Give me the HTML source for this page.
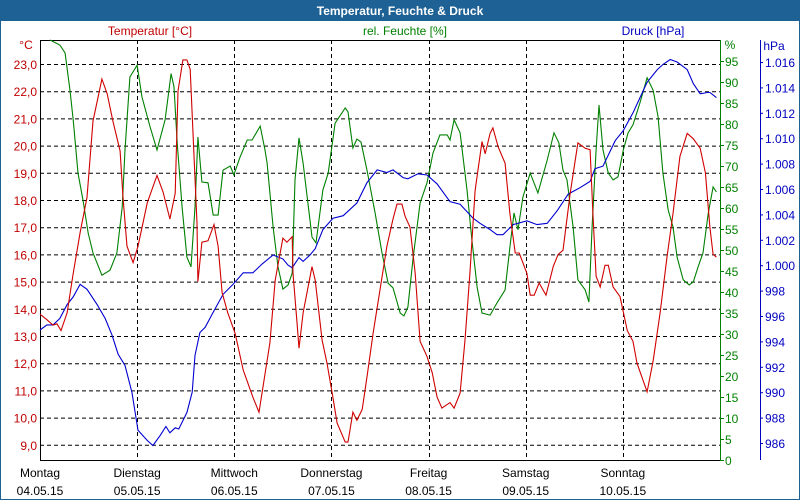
<!DOCTYPE html>
<html><head><meta charset="utf-8"><style>
html,body{margin:0;padding:0;background:#fff}
#wrap{position:relative;width:798px;height:498px;border:1px solid #1e6194;background:#fff;font-family:"Liberation Sans",sans-serif;overflow:hidden}
#title{position:absolute;left:0;top:0;width:798px;height:20px;background:#1e6194;color:#fff;font-weight:bold;font-size:12px;line-height:20px;text-align:center}
svg{position:absolute;left:-1px;top:-1px}
</style></head><body>
<div id="wrap">
<div id="title">Temperatur, Feuchte &amp; Druck</div>
<svg id="chart" width="800" height="500"></svg>
</div>
<script>
const dayNames=["Montag","Dienstag","Mittwoch","Donnerstag","Freitag","Samstag","Sonntag"];
const dayDates=["04.05.15","05.05.15","06.05.15","07.05.15","08.05.15","09.05.15","10.05.15"];
const tempTicks=[9,10,11,12,13,14,15,16,17,18,19,20,21,22,23];
const humTicks=[0,5,10,15,20,25,30,35,40,45,50,55,60,65,70,75,80,85,90,95];
const presTicks=[986,988,990,992,994,996,998,1000,1002,1004,1006,1008,1010,1012,1014,1016];
const tempH=[0,1.7,3.2,4.2,5.2,6.7,8.2,9.9,11.6,13.1,15.3,16.6,18.0,19.8,20.5,21.5,23.0,24.2,26.5,28.9,30.4,32.1,33.4,34.1,35.3,36.3,37.1,38.0,38.8,39.0,40.0,41.5,43.0,44.0,45.0,46.4,48.2,50.2,52.6,54.1,55.6,56.8,58.1,60.0,61.0,62.3,62.5,63.5,64.0,65.0,67.2,68.0,69.7,70.9,72.2,73.4,75.4,76.1,77.3,78.3,79.6,80.8,82.3,84.0,85.7,87.2,88.2,89.4,90.2,91.4,92.7,93.9,95.6,96.9,98.1,99.3,101.3,102.3,103.8,105.0,106.2,107.5,109.2,110.0,111.2,111.9,113.2,114.9,116.1,117.4,118.4,120.3,121.1,122.1,123.3,125.0,126.8,128.0,129.2,131.0,132.9,134.7,135.9,136.6,137.4,138.4,139.6,140.4,141.6,143.3,145.1,146.5,147.5,150.0,151.5,153.2,154.9,156.4,158.1,159.9,161.4,163.1,164.4,165.5,166.3,167.1];
const tempV=[13.8,13.6,13.4,13.45,13.2,13.85,15.3,16.8,18.1,20.9,22.45,21.9,20.9,19.8,18.1,16.3,15.7,16.3,17.9,18.9,18.3,17.3,18.25,22.0,23.15,23.15,22.8,19.8,17.15,15.0,16.45,16.5,17.1,16.3,14.6,13.85,13.1,11.75,10.75,10.2,11.6,12.75,15.05,16.6,16.45,16.65,15.3,13.5,12.55,13.85,15.55,15.05,12.85,12.0,10.9,9.8,9.1,9.1,10.2,9.9,10.3,11.5,13.1,14.7,16.3,17.3,17.85,17.85,17.4,17.0,15.3,12.8,12.25,11.65,10.75,10.35,10.55,10.35,10.9,12.85,15.3,18.35,20.15,19.7,20.45,20.65,19.95,19.35,17.5,16.05,16.05,15.3,14.5,14.5,14.95,14.5,15.55,16.0,16.15,18.25,20.1,19.9,19.85,17.5,15.2,14.8,15.6,15.6,14.8,14.45,13.2,12.8,12.0,10.95,12.1,13.85,15.9,17.5,19.6,20.45,20.25,19.9,19.0,17.0,16.0,15.9];
const humH=[2.5,4.9,6.2,7.4,8.2,9.4,10.6,11.9,13.1,15.3,17.3,19.0,20.3,21.0,22.2,24.0,25.2,27.2,28.9,30.9,32.4,33.1,33.9,35.1,36.3,37.3,38.3,39.0,40.0,41.5,42.8,44.0,45.2,47.0,47.9,49.4,51.2,52.4,54.4,55.6,56.1,57.6,58.8,60.0,61.3,62.3,63.0,64.0,65.0,67.2,68.2,69.9,71.2,72.9,75.4,76.1,77.3,78.3,79.3,80.8,82.8,84.5,86.0,87.2,89.0,89.9,90.9,92.2,93.9,95.6,97.1,98.8,100.6,101.3,102.3,103.8,105.5,106.7,108.0,109.2,111.2,112.9,114.9,116.1,117.1,118.1,119.3,121.1,123.0,125.3,127.0,128.2,129.2,130.2,131.7,132.9,134.7,135.6,136.4,137.4,138.1,139.1,140.4,141.6,142.8,144.1,145.3,146.5,148.2,150.0,151.5,152.7,153.9,155.2,156.4,157.4,158.9,160.4,161.4,162.6,163.8,165.1,166.3,167.1];
const humV=[100,98.8,96.9,88,81,68.3,62,54,49.3,44,45.2,49.3,60.2,73.8,91.2,94,86.4,79.3,73.8,81,92,88.8,75.5,60.2,48.3,46,60.2,76.9,66.2,66,58.3,58.3,69,70,67.9,72.1,76.2,76.2,79.5,73.8,70.7,55.5,46,40.7,41.7,44.5,66.7,76.7,70.7,53.1,51.7,64.3,68.3,80.2,83.8,82.9,74.3,76.4,75.7,69,58.8,49.3,42.1,41,35,34.3,36.4,48.3,61.2,66,73.1,77.4,77.4,76.2,81,77.9,64.3,52.4,41.2,35,34.5,37.4,40.5,50.7,58.8,54.8,62.6,68.3,63.6,71.4,77.9,75.5,69,66.7,55.5,42.9,40.5,37.6,55.5,73.8,84.5,73.8,68.3,66.7,67.4,73.8,77.9,79.8,85,91,88,81.7,68.3,59.5,55.5,48.3,42.9,41.7,42.4,46,49.3,58.8,65,63.8];
const presH=[0,1.7,3.2,4.9,6.7,8.2,9.9,11.6,14.1,16.1,17.8,19.3,21.0,22.7,24.2,26.5,27.9,29.7,31.1,32.1,33.4,34.3,36.3,37.6,38.3,39.5,40.8,42.8,45.2,47.7,50.2,52.6,54.9,57.6,60.0,61.3,62.3,64.0,65.0,66.7,68.0,69.9,72.4,74.9,78.3,80.8,83.3,85.7,87.2,89.7,90.9,93.4,95.6,98.1,101.3,103.8,107.0,108.7,111.2,112.9,114.4,116.9,120.3,122.8,125.3,127.8,130.5,133.4,135.9,137.1,139.1,142.1,144.1,146.5,150.0,152.5,153.9,155.7,157.4,159.9,161.4,163.1,164.9,165.5,167.1];
const presV=[994.9,995.3,995.3,995.8,996.9,997.5,998.5,998.1,996.9,995.8,994.5,993.0,992.1,990.0,987.0,986.2,985.8,986.6,987.3,986.8,987.2,987.1,988.4,990.0,992.9,994.7,995.1,996.3,997.7,998.5,999.4,999.4,1000.1,1000.8,1000.5,1000.0,999.8,1000.6,1000.3,1000.8,1001.3,1002.8,1003.7,1003.9,1004.9,1006.5,1007.5,1007.3,1007.5,1006.9,1006.8,1007.2,1007.1,1006.4,1005.0,1004.8,1003.7,1003.3,1002.8,1002.4,1002.4,1003.2,1003.5,1003.2,1003.3,1004.3,1005.6,1006.1,1006.6,1007.6,1007.8,1009.8,1010.6,1012.0,1014.4,1015.4,1015.8,1016.2,1016.0,1015.4,1014.3,1013.5,1013.6,1013.6,1013.2];

const NS="http://www.w3.org/2000/svg";
const svg=document.getElementById('chart');
const L=40,R=720,T=40,B=460;
const xH=h=>L+(h/168)*(R-L);
const yT=v=>64+(23-v)*27.2;
const yHum=v=>B-v*4.2;
const yP=v=>62+(1016-v)*12.7;
function mk(tag,attrs,parent){const e=document.createElementNS(NS,tag);for(const k in attrs)e.setAttribute(k,attrs[k]);(parent||svg).appendChild(e);return e;}
function txt(x,y,s,fill,anchor){const e=mk('text',{x:x,y:y,fill:fill,'font-size':12,'text-anchor':anchor||'start','font-family':'Liberation Sans, sans-serif'});e.textContent=s;return e;}

tempTicks.forEach(v=>{const l=mk('line',{x1:L,x2:R,y1:yT(v)+0.5,y2:yT(v)+0.5,stroke:'#000','stroke-dasharray':'4,3'});

});
for(let d=1;d<7;d++){const x=Math.round(xH(d*24))+0.5;const l=mk('line',{x1:x,x2:x,y1:T,y2:B,stroke:'#000','stroke-dasharray':'4,3'});

}

const frame=mk('path',{d:`M${L+0.5},${B} V${T+0.5} H${R}`,stroke:'#000',fill:'none'});


const xax=mk('line',{x1:L,x2:R,y1:B+0.5,y2:B+0.5,stroke:'#000'});


const hax=mk('line',{x1:R+0.5,x2:R+0.5,y1:T,y2:B+1,stroke:'#008000'});


const pax=mk('line',{x1:760.5,x2:760.5,y1:T,y2:B,stroke:'#0000c0'});



tempTicks.forEach(v=>{const t=txt(37,yT(v)+5,v.toFixed(1).replace('.',','),'#c00000','end');

});
humTicks.forEach(v=>{const y=yHum(v);mk('line',{x1:R,x2:R+4,y1:y+0.5,y2:y+0.5,stroke:'#008000'});
const t=txt(725,y+5,String(v),'#008000');

});
presTicks.forEach(v=>{const y=yP(v);mk('line',{x1:760,x2:763,y1:y+0.5,y2:y+0.5,stroke:'#0000c0'});
const s=v>=1000?('1.0'+String(v).slice(2)):String(v);
const t=txt(765,y+5,s,'#0000c0');

});
dayNames.forEach((n,i)=>{const x=xH(i*24);
const a=txt(x,477,n,'#000','middle');


const b=txt(x,495,dayDates[i],'#000','middle');

});
[[26,49,'°C','#c00000','middle','temp-unit'],[730,49,'%','#008000','middle','humidity-unit'],[774,50,'hPa','#0000c0','middle','pressure-unit'],
 [150,35,'Temperatur [°C]','#c00000','middle','temp-legend'],[405,35,'rel. Feuchte [%]','#008000','middle','humidity-legend'],[653,35,'Druck [hPa]','#0000c0','middle','pressure-legend']]
.forEach(a=>{const t=txt(a[0],a[1],a[2],a[3],a[4]);

});

function series(hs,vs,yf,color,name){const d=hs.map((h,i)=>(i?'L':'M')+xH(h).toFixed(1)+','+yf(vs[i]).toFixed(1)).join(' ');
const p=mk('path',{d:d,stroke:color,fill:'none','stroke-width':1.1});

}
series(humH,humV,yHum,'#008000','humidity-line');
series(presH,presV,yP,'#0000d0','pressure-line');
series(tempH,tempV,yT,'#d00000','temperature-line');
</script>
</body></html>
